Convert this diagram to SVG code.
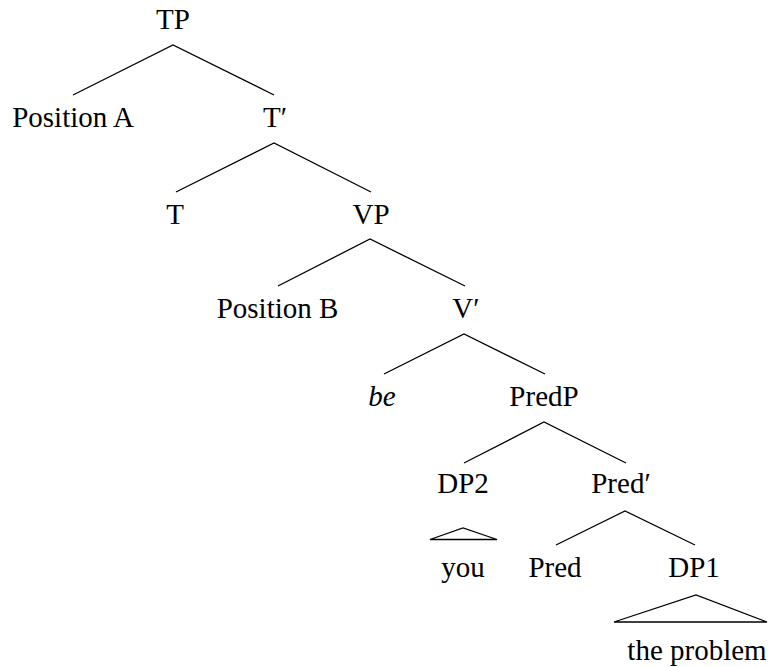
<svg xmlns="http://www.w3.org/2000/svg" width="768" height="667" viewBox="0 0 768 667">
<style>
text{font-family:"Liberation Serif","Times New Roman",serif;font-size:29px;fill:#000;text-anchor:middle}
.it{font-style:italic}
.e{stroke:#000;stroke-width:1.3;fill:none}
</style>
<rect width="768" height="667" fill="#fff"/>
<g id="connectors">
<path class="e" d="M73,95 L173,45 L274,95"/>
<path class="e" d="M176,192 L274,143 L371,192"/>
<path class="e" d="M278,286 L370,239 L465,286"/>
<path class="e" d="M384,374 L464,334 L545,374"/>
<path class="e" d="M464,463 L544,422 L626,463"/>
<path class="e" d="M556,545 L625,511 L695,545"/>
<path class="e" d="M430,539.5 L463,528 L497,539.5 Z"/>
<path class="e" d="M614,622 L696,595 L767,622 Z"/>
</g>
<g id="TP"><text x="173" y="29">TP</text></g>
<g id="PositionA"><text x="73" y="127">Position A</text></g>
<g id="Tbar"><text x="275" y="127">T′</text></g>
<g id="T"><text x="175" y="224">T</text></g>
<g id="VP"><text x="371" y="224">VP</text></g>
<g id="PositionB"><text x="277.5" y="318">Position B</text></g>
<g id="Vbar"><text x="466" y="318">V′</text></g>
<g id="be"><text class="it" x="382" y="406">be</text></g>
<g id="PredP"><text x="544" y="406">PredP</text></g>
<g id="DP2"><text x="463" y="493">DP2</text></g>
<g id="Predbar"><text x="621" y="493">Pred′</text></g>
<g id="you"><text x="463" y="577">you</text></g>
<g id="Pred"><text x="555" y="577">Pred</text></g>
<g id="DP1"><text x="694" y="577">DP1</text></g>
<g id="theproblem"><text x="697" y="660">the problem</text></g>
</svg>
